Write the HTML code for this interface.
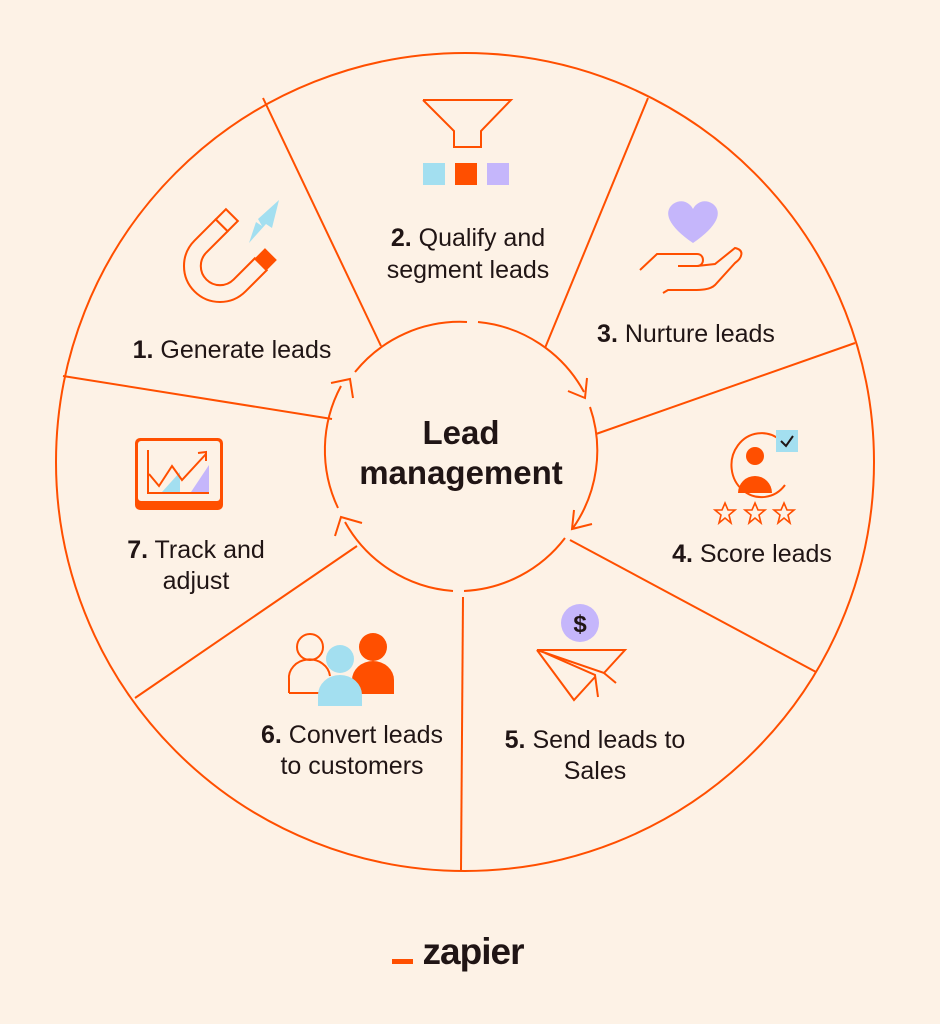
<!DOCTYPE html>
<html><head><style>
html,body{margin:0;padding:0;background:#fdf2e6;}
svg{display:block;}
text{font-family:"Liberation Sans",sans-serif;fill:#201515;}
</style></head><body>
<svg width="940" height="1024" viewBox="0 0 940 1024" xmlns="http://www.w3.org/2000/svg">
<rect width="940" height="1024" fill="#fdf2e6"/>
<g stroke="#ff4f00" stroke-width="2" fill="none">
<circle cx="465" cy="462" r="409"/>
<line x1="263" y1="98" x2="381" y2="346"/>
<line x1="648" y1="98" x2="545" y2="348"/>
<line x1="855" y1="343" x2="596" y2="434"/>
<line x1="570" y1="540" x2="816" y2="672"/>
<line x1="463" y1="597" x2="461" y2="870"/>
<line x1="357" y1="546" x2="135" y2="698"/>
<line x1="63" y1="376" x2="332" y2="419"/>
<path d="M355,372 A135,135 0 0 1 467,322"/>
<path d="M478,322 A135,135 0 0 1 584,392"/>
<path d="M590,407 A135,135 0 0 1 573,528"/>
<path d="M565,538 A135,135 0 0 1 464,591"/>
<path d="M453,591 A135,135 0 0 1 345,522"/>
<path d="M338,508 A135,135 0 0 1 341,386"/>
<polyline points="331,383 350,379 353,398"/>
<polyline points="568,391 585,398 587,378"/>
<polyline points="574,510 572,529 592,524"/>
<polyline points="335,536 341,517 362,523"/>
</g>
<text x="461" y="444" font-size="33" font-weight="bold" text-anchor="middle">Lead</text>
<text x="461" y="484" font-size="33" font-weight="bold" text-anchor="middle">management</text>

<g font-size="25">
<text x="232" y="358" text-anchor="middle"><tspan font-weight="bold">1.</tspan> Generate leads</text>
<text x="468" y="246" text-anchor="middle"><tspan font-weight="bold">2.</tspan> Qualify and</text>
<text x="468" y="278" text-anchor="middle">segment leads</text>
<text x="686" y="342" text-anchor="middle"><tspan font-weight="bold">3.</tspan> Nurture leads</text>
<text x="752" y="562" text-anchor="middle"><tspan font-weight="bold">4.</tspan> Score leads</text>
<text x="595" y="748" text-anchor="middle"><tspan font-weight="bold">5.</tspan> Send leads to</text>
<text x="595" y="779" text-anchor="middle">Sales</text>
<text x="352" y="743" text-anchor="middle"><tspan font-weight="bold">6.</tspan> Convert leads</text>
<text x="352" y="774" text-anchor="middle">to customers</text>
<text x="196" y="558" text-anchor="middle"><tspan font-weight="bold">7.</tspan> Track and</text>
<text x="196" y="589" text-anchor="middle">adjust</text>
</g>

<!-- icon 1 magnet -->
<g transform="translate(220,266) rotate(45) scale(1.2)">
<path d="M-30,-25 L-30,0 A30,30 0 0 0 30,0 L30,-25 L16,-25 L16,0 A16,16 0 0 1 -16,0 L-16,-25 Z" stroke="#ff4f00" stroke-width="1.7" fill="none"/>
<rect x="-30" y="-37" width="14" height="12" stroke="#ff4f00" stroke-width="1.7" fill="#fdf2e6"/>
<rect x="16" y="-37" width="14" height="12" fill="#ff4f00"/>
</g>
<polygon points="258,219 279,200 272,228 266,224 249,243 256,222 262,226" fill="#a3dff0"/>
<!-- icon 2 funnel -->
<polyline points="423,100 511,100 481,131 481,147 454,147 454,131 423,100" stroke="#ff4f00" stroke-width="2" fill="none"/>
<rect x="423" y="163" width="22" height="22" fill="#a3dff0"/>
<rect x="455" y="163" width="22" height="22" fill="#ff4f00"/>
<rect x="487" y="163" width="22" height="22" fill="#c5b6fb"/>
<!-- icon 3 -->
<path d="M693,243 C668,226 663,212 673,204 C682,198 690,203 693,209 C696,203 704,198 713,204 C723,212 718,226 693,243 Z" fill="#c5b6fb"/>
<g stroke="#ff4f00" stroke-width="2" fill="none">
<path d="M640,270 L657,254 L697,254 C705,254 705,266 697,266 L678,266"/>
<path d="M697,266 L715,264 L735,248 C745,250 742,258 735,263 L715,285 C710,290 700,290 693,290 L668,290 L663,293"/>
</g>
<!-- icon 4 -->
<path d="M780,440 A30,32 0 1 0 785,485" stroke="#ff4f00" stroke-width="2" fill="none"/>
<circle cx="755" cy="456" r="9" fill="#ff4f00"/>
<path d="M738,493 A17,17 0 0 1 772,493 Z" fill="#ff4f00"/>
<rect x="776" y="430" width="22" height="22" fill="#a3dff0"/>
<polyline points="781,441 786,446 793,436" stroke="#201515" stroke-width="2" fill="none"/>
<g stroke="#ff4f00" stroke-width="1.6" fill="none">
<polygon points="725,503 728,510 735,510 729,515 731,523 725,518 719,523 721,515 715,510 722,510"/>
<polygon points="755,503 758,510 765,510 759,515 761,523 755,518 749,523 751,515 745,510 752,510"/>
<polygon points="784,503 787,510 794,510 788,515 790,523 784,518 778,523 780,515 774,510 781,510"/>
</g>
<!-- icon 5 -->
<circle cx="580" cy="623" r="19" fill="#c5b6fb"/>
<text x="580" y="632" font-size="24" font-weight="bold" text-anchor="middle">$</text>
<g stroke="#ff4f00" stroke-width="2" fill="none">
<polygon points="537,650 625,650 604,673"/>
<polyline points="537,650 574,700 595,677"/>
<polyline points="545,653 595,675 598,697"/>
<line x1="604" y1="673" x2="616" y2="683"/>
</g>
<!-- icon 6 -->
<g stroke="#ff4f00" stroke-width="2" fill="none">
<circle cx="310" cy="647" r="13"/>
<path d="M289,693 L289,680 A20,18 0 0 1 330,676"/>
<line x1="289" y1="693" x2="320" y2="693"/>
</g>
<circle cx="373" cy="647" r="14" fill="#ff4f00"/>
<path d="M352,694 L352,680 A21,19 0 0 1 394,680 L394,694 Z" fill="#ff4f00"/>
<circle cx="340" cy="659" r="14" fill="#a3dff0"/>
<path d="M318,706 L318,695 A22,20 0 0 1 362,695 L362,706 Z" fill="#a3dff0"/>
<!-- icon 7 -->
<rect x="135" y="438" width="88" height="72" rx="5" fill="#ff4f00"/>
<rect x="137" y="440" width="84" height="62" rx="4" fill="#fdf2e6" stroke="#ff4f00" stroke-width="2"/>
<polygon points="162,492 180,472 180,492" fill="#a3dff0"/>
<polygon points="191,492 209,465 209,492" fill="#c5b6fb"/>
<g stroke="#ff4f00" stroke-width="2" fill="none">
<polyline points="148,450 148,493 209,493"/>
<polyline points="149,474 159,486 172,466 182,480 206,454"/>
<polyline points="198,453 206,452 206,461"/>
</g>
<!-- logo -->
<rect x="392" y="959" width="21" height="5" fill="#ff4f00"/>
<text x="473" y="964" font-size="37" font-weight="bold" text-anchor="middle" letter-spacing="-1">zapier</text>
</svg>
</body></html>
